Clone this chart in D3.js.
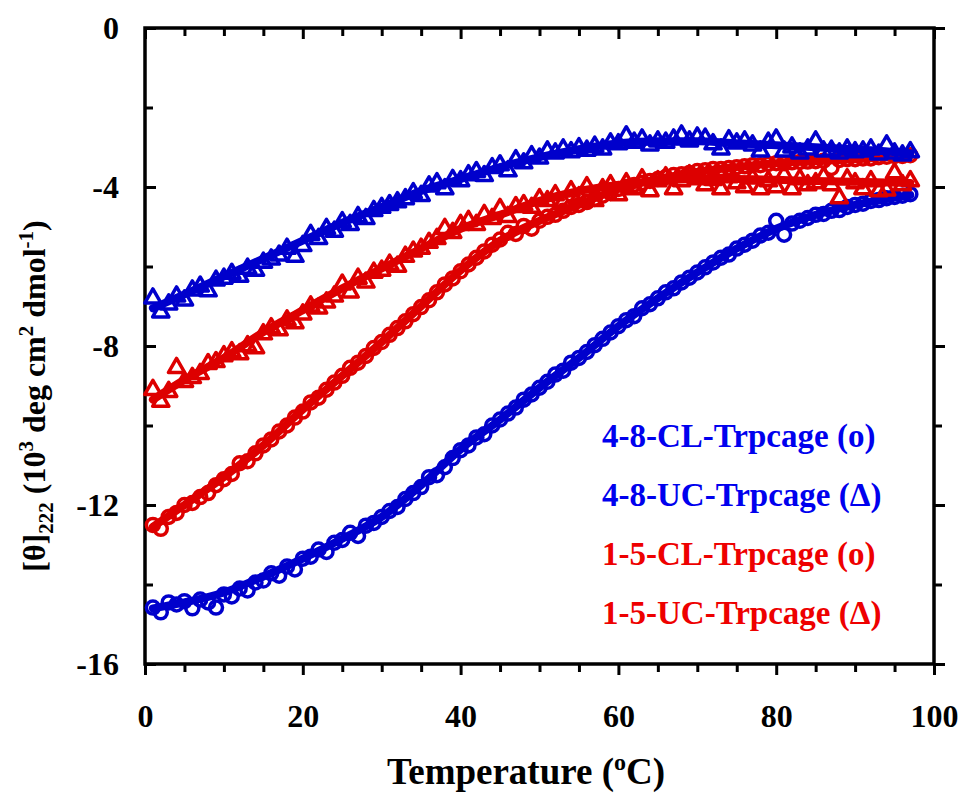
<!DOCTYPE html>
<html>
<head>
<meta charset="utf-8">
<script src="https://cdn.jsdelivr.net/npm/d3@7"></script>
<style>
  body { margin: 0; background: #fff; }
  svg text { font-family: "Liberation Serif", "Times New Roman", Times, serif; font-weight: bold; }
</style>
</head>
<body>
<svg id="plot" width="963" height="793"></svg>
<script>
// temperatures (degC) of the measured points
const TEMPS = d3.range(1, 98);

// 4-8-CL-Trpcage, circles, blue
const CL48 = [-14.58,-14.70,-14.45,-14.50,-14.42,-14.60,-14.38,-14.45,-14.58,-14.25,
  -14.30,-14.10,-14.15,-13.95,-13.90,-13.72,-13.78,-13.55,-13.62,-13.35,
  -13.30,-13.12,-13.18,-12.95,-12.88,-12.70,-12.78,-12.52,-12.45,-12.30,
  -12.15,-12.05,-11.85,-11.70,-11.55,-11.30,-11.25,-11.05,-10.82,-10.62,
  -10.50,-10.30,-10.22,-10.00,-9.85,-9.70,-9.55,-9.35,-9.22,-9.05,
  -8.90,-8.72,-8.62,-8.42,-8.30,-8.15,-7.98,-7.82,-7.66,-7.50,
  -7.35,-7.25,-7.05,-6.95,-6.80,-6.65,-6.55,-6.40,-6.28,-6.15,
  -6.02,-5.90,-5.78,-5.70,-5.55,-5.45,-5.35,-5.22,-5.15,-4.85,
  -5.20,-4.92,-4.85,-4.78,-4.70,-4.68,-4.60,-4.58,-4.50,-4.45,
  -4.42,-4.35,-4.33,-4.28,-4.25,-4.22,-4.18];

// 4-8-UC-Trpcage, triangles, blue
const UC48 = [-6.80,-7.15,-6.95,-6.75,-6.85,-6.60,-6.50,-6.62,-6.35,-6.30,
  -6.18,-6.25,-6.05,-6.10,-5.90,-5.82,-5.72,-5.55,-5.75,-5.48,
  -5.20,-5.30,-5.05,-5.12,-4.88,-4.95,-4.75,-4.80,-4.60,-4.52,
  -4.45,-4.38,-4.30,-4.15,-4.22,-3.98,-3.90,-4.05,-3.82,-3.85,
  -3.70,-3.62,-3.72,-3.52,-3.45,-3.60,-3.32,-3.40,-3.22,-3.28,
  -3.10,-3.15,-3.05,-3.12,-3.02,-3.08,-2.98,-3.05,-2.90,-2.92,
  -2.72,-2.88,-2.80,-2.95,-2.85,-2.88,-2.80,-2.70,-2.85,-2.75,
  -2.78,-2.92,-3.05,-2.82,-2.90,-2.85,-2.95,-3.10,-2.88,-2.80,
  -3.10,-3.00,-3.15,-3.05,-2.85,-3.10,-3.08,-3.15,-3.05,-3.12,
  -3.10,-3.05,-3.18,-2.95,-3.15,-3.20,-3.12];

// 1-5-CL-Trpcage, circles, red
const CL15 = [-12.50,-12.60,-12.30,-12.20,-12.00,-11.95,-11.80,-11.70,-11.50,-11.35,
  -11.22,-10.95,-10.90,-10.70,-10.50,-10.35,-10.15,-10.00,-9.80,-9.65,
  -9.42,-9.30,-9.10,-8.92,-8.75,-8.55,-8.42,-8.25,-8.05,-7.90,
  -7.72,-7.55,-7.38,-7.20,-7.02,-6.85,-6.65,-6.45,-6.30,-6.12,
  -5.95,-5.78,-5.62,-5.45,-5.32,-5.15,-5.18,-4.98,-5.05,-4.85,
  -4.75,-4.70,-4.60,-4.50,-4.45,-4.38,-4.30,-4.22,-4.15,-4.05,
  -4.00,-3.95,-3.90,-3.85,-3.80,-3.75,-3.70,-3.68,-3.65,-3.60,
  -3.58,-3.55,-3.55,-3.52,-3.50,-3.48,-3.45,-3.45,-3.42,-3.40,
  -3.40,-3.38,-3.37,-3.36,-3.35,-3.34,-3.52,-3.32,-3.30,-3.30,
  -3.28,-3.28,-3.25,-3.24,-3.22,-3.22,-3.20];

// 1-5-UC-Trpcage, triangles, red
const UC15 = [-9.10,-9.40,-9.15,-8.55,-8.90,-8.80,-8.70,-8.45,-8.40,-8.25,
  -8.15,-8.20,-8.00,-8.05,-7.70,-7.55,-7.60,-7.35,-7.42,-7.20,
  -7.00,-7.05,-6.90,-6.75,-6.45,-6.65,-6.30,-6.40,-6.15,-6.10,
  -5.95,-6.00,-5.75,-5.62,-5.55,-5.40,-5.30,-5.05,-5.15,-4.95,
  -4.85,-4.95,-4.70,-4.80,-4.55,-4.75,-4.50,-4.45,-4.52,-4.30,
  -4.35,-4.20,-4.38,-4.10,-4.25,-4.00,-4.35,-4.05,-3.95,-4.20,
  -3.90,-4.05,-3.80,-4.10,-3.85,-3.75,-4.05,-3.85,-3.70,-3.80,
  -3.95,-3.82,-4.05,-3.75,-3.90,-4.00,-3.78,-4.05,-3.85,-4.00,
  -3.70,-4.05,-3.80,-3.95,-3.90,-3.75,-3.95,-4.28,-3.80,-3.90,
  -4.05,-3.85,-4.10,-4.08,-3.65,-3.95,-3.85];

// fitted curves (read at knots)
const FIT_T = [1,5,10,15,20,25,30,35,40,45,50,55,60,65,70,75,80,85,90,97];
const FIT_CL48 = [-14.6,-14.45,-14.2,-13.8,-13.35,-12.85,-12.3,-11.5,-10.6,-9.85,-9.05,-8.3,-7.5,-6.8,-6.15,-5.55,-5.05,-4.7,-4.45,-4.2];
const FIT_UC48 = [-7.05,-6.7,-6.25,-5.8,-5.35,-4.9,-4.5,-4.1,-3.8,-3.5,-3.25,-3.05,-2.9,-2.85,-2.85,-2.9,-2.95,-3.0,-3.05,-3.15];
const FIT_CL15 = [-12.55,-12.0,-11.3,-10.5,-9.6,-8.75,-7.9,-7.0,-6.1,-5.35,-4.85,-4.45,-4.05,-3.8,-3.62,-3.5,-3.4,-3.35,-3.3,-3.2];
const FIT_UC15 = [-9.35,-8.85,-8.3,-7.65,-7.1,-6.55,-6.05,-5.55,-5.05,-4.7,-4.35,-4.1,-3.95,-3.85,-3.8,-3.8,-3.82,-3.85,-3.87,-3.9];

const LEGEND = ['4-8-CL-Trpcage (o)', '4-8-UC-Trpcage (\u0394)', '1-5-CL-Trpcage (o)', '1-5-UC-Trpcage (\u0394)'];

const BLUE = '#0000cc', RED = '#dd0000';

const svg = d3.select('#plot');
const x = d3.scaleLinear().domain([0, 100]).range([145, 934]);
const y = d3.scaleLinear().domain([-16, 0]).range([664, 28]);

// axes, ticks pointing inward, mirrored on top/right
function styleAxis(g, majorTest, majorLen, minorLen) {
  g.select('.domain').remove();
  g.selectAll('.tick line').attr('stroke', '#000').attr('stroke-width', 3);
  g.selectAll('.tick').each(function(d) {
    const ln = d3.select(this).select('line');
    const len = majorTest(d) ? majorLen : minorLen;
    if (ln.attr('y2') !== null && +ln.attr('y2') !== 0) ln.attr('y2', Math.sign(+ln.attr('y2')) * len);
    if (ln.attr('x2') !== null && +ln.attr('x2') !== 0) ln.attr('x2', Math.sign(+ln.attr('x2')) * len);
  });
  g.selectAll('text').attr('font-size', 32).attr('fill', '#000');
}
const xMajor = d => d % 20 === 0, yMajor = d => d % 4 === 0;
const xt = d3.range(0, 101, 5), yt = d3.range(-16, 1, 2);

svg.append('g').attr('transform', 'translate(0,664)')
  .call(d3.axisBottom(x).tickValues(xt).tickSize(-10).tickPadding(40).tickFormat(d => xMajor(d) ? d : ''))
  .call(g => styleAxis(g, xMajor, -11, -8));
svg.append('g').attr('transform', 'translate(0,28)')
  .call(d3.axisTop(x).tickValues(xt).tickSize(-10).tickFormat(''))
  .call(g => styleAxis(g, xMajor, 11, 8));
svg.append('g').attr('transform', 'translate(145,0)')
  .call(d3.axisLeft(y).tickValues(yt).tickSize(-10).tickPadding(26).tickFormat(d => yMajor(d) ? d : ''))
  .call(g => styleAxis(g, yMajor, 11, 8));
svg.append('g').attr('transform', 'translate(934,0)')
  .call(d3.axisRight(y).tickValues(yt).tickSize(-10).tickFormat(''))
  .call(g => styleAxis(g, yMajor, -11, -8));

svg.append('rect').attr('x', 145).attr('y', 28).attr('width', 789).attr('height', 636)
  .attr('fill', 'none').attr('stroke', '#000').attr('stroke-width', 3.5);

const line = d3.line().x(d => x(d[0])).y(d => y(d[1])).curve(d3.curveMonotoneX);
const tri = d3.symbol(d3.symbolTriangle, 115);

const series = [
  { vals: CL48, fit: FIT_CL48, color: BLUE, shape: 'circle' },
  { vals: CL15, fit: FIT_CL15, color: RED, shape: 'circle' },
  { vals: UC15, fit: FIT_UC15, color: RED, shape: 'tri' },
  { vals: UC48, fit: FIT_UC48, color: BLUE, shape: 'tri' }
];

series.forEach(s => {
  const pts = TEMPS.map((t, i) => [t, s.vals[i]]);
  const g = svg.append('g');
  if (s.shape === 'circle') {
    g.selectAll('circle').data(pts).enter().append('circle')
      .attr('cx', d => x(d[0])).attr('cy', d => y(d[1])).attr('r', 6.5)
      .attr('fill', 'none').attr('stroke', s.color).attr('stroke-width', 3.5);
  } else {
    g.selectAll('path').data(pts).enter().append('path')
      .attr('d', tri).attr('transform', d => `translate(${x(d[0])},${y(d[1])})`)
      .attr('fill', 'none').attr('stroke', s.color).attr('stroke-width', 3.5).attr('stroke-linejoin', 'round');
  }
  svg.append('path').datum(FIT_T.map((t, i) => [t, s.fit[i]]))
    .attr('d', line).attr('fill', 'none').attr('stroke', s.color).attr('stroke-width', 8)
    .attr('stroke-linecap', 'round');
});

// legend
const legColors = ['#0000ee', '#0000ee', '#ee0000', '#ee0000'];
svg.selectAll('.leg').data(LEGEND).enter().append('text')
  .attr('x', 602).attr('y', (d, i) => 447 + i * 59)
  .attr('font-size', 33).attr('fill', (d, i) => legColors[i])
  .text(d => d);

// axis titles
const xt2 = svg.append('text').attr('x', 526).attr('y', 784).attr('text-anchor', 'middle').attr('font-size', 37);
xt2.append('tspan').text('Temperature (');
xt2.append('tspan').attr('font-size', 24).attr('dy', -14).text('o');
xt2.append('tspan').attr('dy', 14).text('C)');

const yt2 = svg.append('text').attr('transform', 'translate(45,396) rotate(-90)')
  .attr('text-anchor', 'middle').attr('font-size', 32);
yt2.append('tspan').text('[\u03b8]');
yt2.append('tspan').attr('font-size', 21).attr('dy', 8).text('222');
yt2.append('tspan').attr('dy', -8).text(' (10');
yt2.append('tspan').attr('font-size', 21).attr('dy', -12).text('3');
yt2.append('tspan').attr('dy', 12).text(' deg cm');
yt2.append('tspan').attr('font-size', 21).attr('dy', -12).text('2');
yt2.append('tspan').attr('dy', 12).text(' dmol');
yt2.append('tspan').attr('font-size', 21).attr('dy', -12).text('-1');
yt2.append('tspan').attr('dy', 12).text(')');
</script>
</body>
</html>
